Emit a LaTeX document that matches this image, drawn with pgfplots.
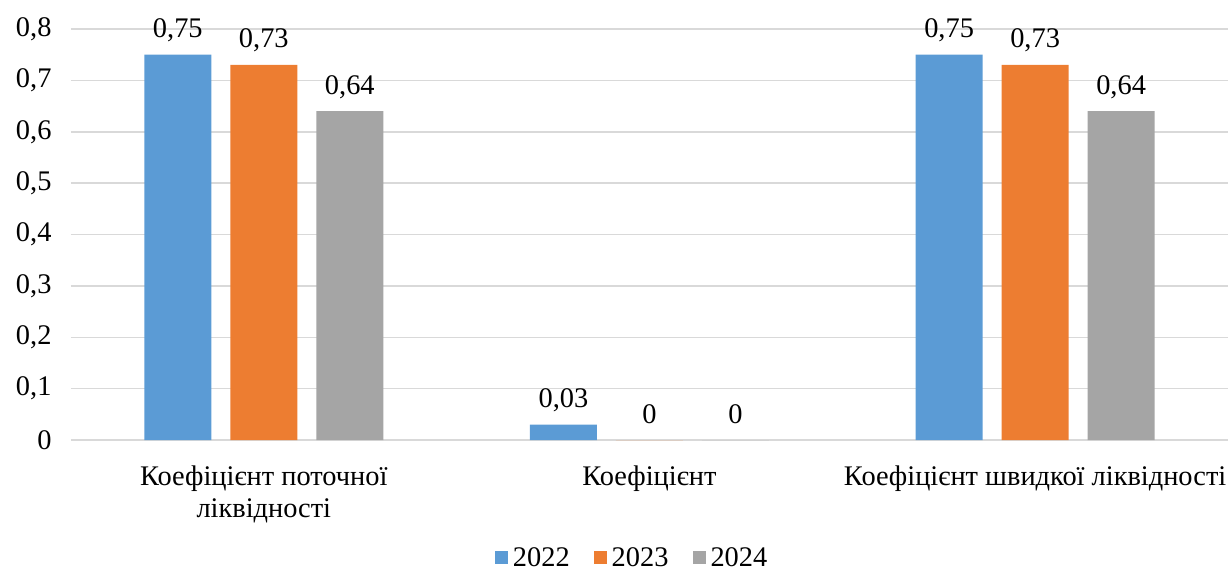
\documentclass[border=0pt]{standalone}
\usepackage{pgfplots}
\pgfplotsset{compat=1.18}
\usepackage{fontspec}
\setmainfont{Liberation Serif}
\definecolor{cA}{HTML}{5B9BD5}
\definecolor{cB}{HTML}{ED7D31}
\definecolor{cC}{HTML}{A5A5A5}
\definecolor{gridc}{HTML}{D9D9D9}
\newcommand{\fsz}{\fontsize{28.5}{32}\selectfont}
\begin{document}
\begin{tikzpicture}
\path[use as bounding box] (-71bp,-134bp) rectangle (1157bp,440bp);
\begin{axis}[
  at={(0,0)}, anchor=south west,
  scale only axis, width=1157bp, height=411bp,
  xmin=-0.5, xmax=2.5, ymin=0, ymax=0.8,
  clip=false,
  ybar=19bp, bar width=67bp,
  axis line style={draw=none},
  major tick style={draw=none},
  ymajorgrids, major grid style={draw=gridc, line width=1.5bp},
  ytick={0,0.1,...,0.8},
  yticklabel style={font=\fsz, /pgf/number format/assume math mode=true,
    /pgf/number format/use comma, /pgf/number format/fixed, xshift=-16bp},
  xtick={0,1,2},
  xticklabels={{Коефіцієнт поточної\\ліквідності},Коефіцієнт,{Коефіцієнт швидкої ліквідності}},
  xticklabel style={font=\fsz, align=center, anchor=north, yshift=-18bp},
  nodes near coords,
  nodes near coords style={font=\fsz, anchor=base, yshift=17bp,
    /pgf/number format/assume math mode=true,
    /pgf/number format/use comma, /pgf/number format/fixed,
    /pgf/number format/precision=2},
  legend style={font=\fsz, draw=none, at={(0.485,-0.287)}, anchor=center,
    legend columns=3, /tikz/every even column/.append style={column sep=22bp},
    /tikz/every odd column/.append style={column sep=3bp}},
  legend image code/.code={\fill[#1,draw=none] (0bp,-6bp) rectangle (13bp,7bp);},
]
\addplot[fill=cA, draw=none] coordinates {(0,0.75) (1,0.03) (2,0.75)};
\addplot[fill=cB, draw=none] coordinates {(0,0.73) (1,0) (2,0.73)};
\addplot[fill=cC, draw=none] coordinates {(0,0.64) (1,0) (2,0.64)};
\legend{2022,2023,2024}
\end{axis}
\end{tikzpicture}
\end{document}
